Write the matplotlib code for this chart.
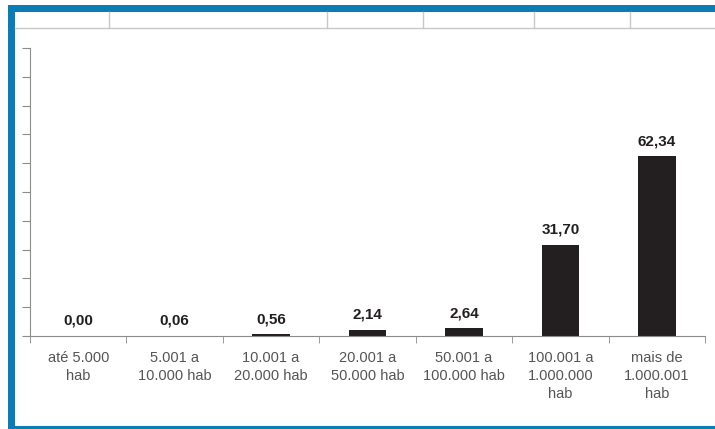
import matplotlib.pyplot as plt
from matplotlib.patches import Rectangle
from matplotlib.lines import Line2D
import numpy as np

plt.rcParams['font.family'] = ['Liberation Sans', 'DejaVu Sans']

categorias = ['até 5.000\nhab', '5.001 a\n10.000 hab', '10.001 a\n20.000 hab',
              '20.001 a\n50.000 hab', '50.001 a\n100.000 hab',
              '100.001 a\n1.000.000\nhab', 'mais de\n1.000.001\nhab']
valores = [0.00, 0.06, 0.56, 2.14, 2.64, 31.70, 62.34]
rotulos = ['0,00', '0,06', '0,56', '2,14', '2,64', '31,70', '62,34']

W, H = 715, 429
fig = plt.figure(figsize=(W / 100, H / 100), dpi=100)
azul = '#0A7DB8'
cinza = '#8C8C8C'

# moldura azul e faixa de tabela no topo (coordenadas em pixels)
def px_rect(x0, y0, x1, y1, **kw):
    fig.patches.append(Rectangle((x0 / W, 1 - y1 / H), (x1 - x0) / W, (y1 - y0) / H,
                                 transform=fig.transFigure, **kw))

px_rect(8, 5, W, 12, color=azul, lw=0)
px_rect(8, 5, 15, H, color=azul, lw=0)
px_rect(8, 426, W, H, color=azul, lw=0)
fig.lines.append(Line2D([15 / W, 1], [1 - 28 / H] * 2, transform=fig.transFigure,
                        color='#C8C8C8', lw=1))
for xv in [109, 327, 423, 534, 630]:
    fig.lines.append(Line2D([xv / W] * 2, [1 - 12 / H, 1 - 28 / H],
                            transform=fig.transFigure, color='#C8C8C8', lw=1))

ax = fig.add_axes([30 / W, 1 - 336 / H, 675 / W, 288 / H])
x = np.arange(len(valores))
ax.bar(x, valores, width=0.39, color='#231F20')
for xi, v, r in zip(x, valores, rotulos):
    ax.annotate(r, (xi, v), xytext=(0, 6), textcoords='offset points',
                ha='center', va='bottom', fontsize=11, fontweight='bold', color='#231F20')

ax.set_xlim(-0.5, len(valores) - 0.5)
ax.set_ylim(0, 100)
ax.set_yticks(np.arange(0, 101, 10))
ax.set_yticklabels([])
ax.set_xticks(x)
ax.set_xticklabels(categorias, fontsize=10.5, color='#555555', linespacing=1.35)
ax.set_xticks(np.arange(-0.5, len(valores)), minor=True)
ax.tick_params(axis='x', which='major', length=0, pad=11)
ax.tick_params(axis='x', which='minor', length=5, color=cinza)
ax.tick_params(axis='y', length=6, color=cinza)
for s in ['top', 'right']:
    ax.spines[s].set_visible(False)
for s in ['left', 'bottom']:
    ax.spines[s].set_color(cinza)

fig.savefig('out.png', dpi=100)
